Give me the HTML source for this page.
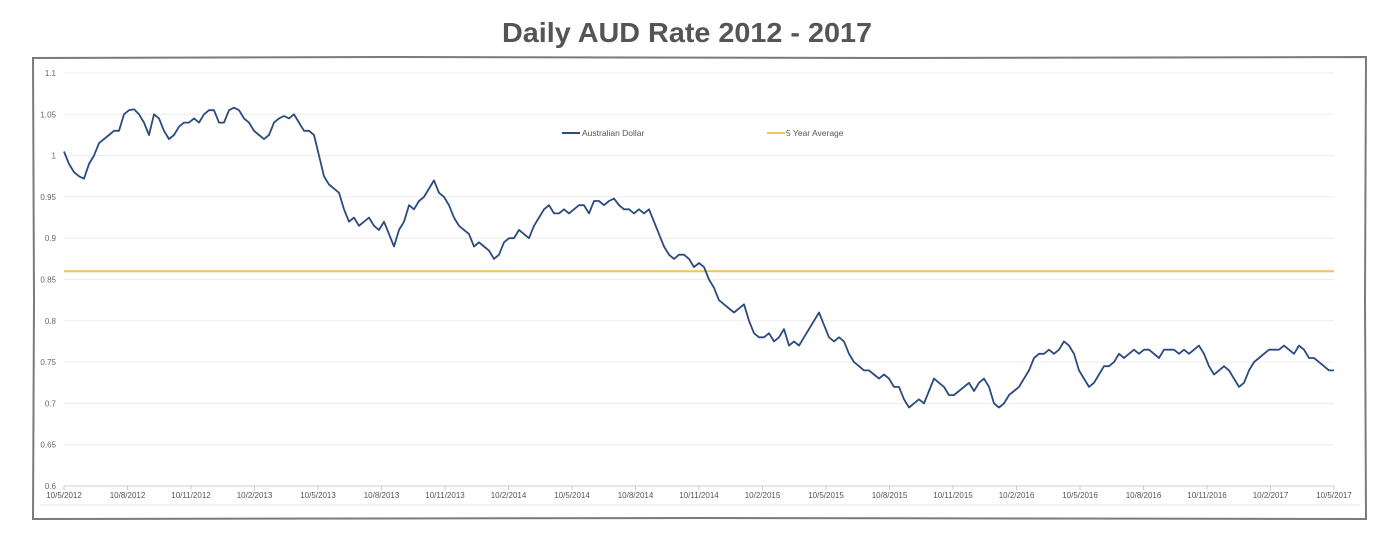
<!DOCTYPE html>
<html><head><meta charset="utf-8"><style>
body{margin:0;background:#fff;}
svg{display:block;font-family:"Liberation Sans",sans-serif;}
</style></head><body>
<svg width="1388" height="536" viewBox="0 0 1388 536">
<text x="687" y="42" text-anchor="middle" font-size="28" font-weight="bold" fill="#555" textLength="370" lengthAdjust="spacingAndGlyphs">Daily AUD Rate 2012 - 2017</text>
<path d="M33,58 L400,57 L900,58 L1366,57 L1365,300 L1366,519 L700,518 L33,519 L34,300 Z" fill="none" stroke="#7a7a7a" stroke-width="2"/>
<g id="grid"></g>
<g id="yticks"></g>
<g id="xticks"></g>
<line x1="40" y1="505" x2="1360" y2="505" stroke="#e6e6e6"/>
<g id="series"></g>
<g>
<line x1="562" y1="133" x2="580" y2="133" stroke="#2b4a7e" stroke-width="2"/>
<text x="582" y="136" font-size="8.5" fill="#555">Australian Dollar</text>
<line x1="767" y1="133" x2="785" y2="133" stroke="#f0c45a" stroke-width="2"/>
<text x="786" y="136" font-size="8.5" fill="#555">5 Year Average</text>
</g>
</svg>
<script>
const xLabels=["10/5/2012","10/8/2012","10/11/2012","10/2/2013","10/5/2013","10/8/2013","10/11/2013","10/2/2014","10/5/2014","10/8/2014","10/11/2014","10/2/2015","10/5/2015","10/8/2015","10/11/2015","10/2/2016","10/5/2016","10/8/2016","10/11/2016","10/2/2017","10/5/2017"];
const yTicks=[0.6,0.65,0.7,0.75,0.8,0.85,0.9,0.95,1,1.05,1.1];
const average=[0.86];
const audValues=[1.005,0.99,0.98,0.975,0.972,0.99,1.0,1.015,1.02,1.025,1.03,1.03,1.05,1.055,1.056,1.05,1.04,1.025,1.05,1.045,1.03,1.02,1.025,1.035,1.04,1.04,1.045,1.04,1.05,1.055,1.055,1.04,1.04,1.055,1.058,1.055,1.045,1.04,1.03,1.025,1.02,1.025,1.04,1.045,1.048,1.045,1.05,1.04,1.03,1.03,1.025,1.0,0.975,0.965,0.96,0.955,0.935,0.92,0.925,0.915,0.92,0.925,0.915,0.91,0.92,0.905,0.89,0.91,0.92,0.94,0.935,0.945,0.95,0.96,0.97,0.955,0.95,0.94,0.925,0.915,0.91,0.905,0.89,0.895,0.89,0.885,0.875,0.88,0.895,0.9,0.9,0.91,0.905,0.9,0.915,0.925,0.935,0.94,0.93,0.93,0.935,0.93,0.935,0.94,0.94,0.93,0.945,0.945,0.94,0.945,0.948,0.94,0.935,0.935,0.93,0.935,0.93,0.935,0.92,0.905,0.89,0.88,0.875,0.88,0.88,0.875,0.865,0.87,0.865,0.85,0.84,0.825,0.82,0.815,0.81,0.815,0.82,0.8,0.785,0.78,0.78,0.785,0.775,0.78,0.79,0.77,0.775,0.77,0.78,0.79,0.8,0.81,0.795,0.78,0.775,0.78,0.775,0.76,0.75,0.745,0.74,0.74,0.735,0.73,0.735,0.73,0.72,0.72,0.705,0.695,0.7,0.705,0.7,0.715,0.73,0.725,0.72,0.71,0.71,0.715,0.72,0.725,0.715,0.725,0.73,0.72,0.7,0.695,0.7,0.71,0.715,0.72,0.73,0.74,0.755,0.76,0.76,0.765,0.76,0.765,0.775,0.77,0.76,0.74,0.73,0.72,0.725,0.735,0.745,0.745,0.75,0.76,0.755,0.76,0.765,0.76,0.765,0.765,0.76,0.755,0.765,0.765,0.765,0.76,0.765,0.76,0.765,0.77,0.76,0.745,0.735,0.74,0.745,0.74,0.73,0.72,0.725,0.74,0.75,0.755,0.76,0.765,0.765,0.765,0.77,0.765,0.76,0.77,0.765,0.755,0.755,0.75,0.745,0.74,0.74];
const NS="http://www.w3.org/2000/svg";
const X0=64,X1=1334,Y0=486,Y1=73,VMIN=0.6,VMAX=1.1;
function yScale(v){return Y0-(v-VMIN)/(VMAX-VMIN)*(Y0-Y1);}
function xScale(f){return X0+f*(X1-X0);}
function mk(tag,attrs,parent){const e=document.createElementNS(NS,tag);for(const k in attrs)e.setAttribute(k,attrs[k]);parent.appendChild(e);return e;}
const grid=document.getElementById('grid'),yt=document.getElementById('yticks'),xt=document.getElementById('xticks'),ser=document.getElementById('series');
yTicks.forEach(v=>{
  const y=yScale(v);
  const l=mk('line',{x1:X0,x2:X1,y1:y,y2:y,stroke:v===VMIN?'#d0d0d0':'#ececec'},grid);
  
  
  const t=mk('text',{x:56,y:y+3,'text-anchor':'end','font-size':'8','fill':'#666'},yt);
  t.textContent=String(v);
  
  
});
xLabels.forEach((s,i)=>{
  const x=xScale(i/(xLabels.length-1));
  const tk=mk('line',{x1:x,x2:x,y1:Y0,y2:Y0+4,stroke:'#ccc'},xt);
  
  
  const t=mk('text',{x:x,y:Y0+12,'text-anchor':'middle','font-size':'8','fill':'#555'},xt);
  t.textContent=s;
  
  
});
const avgY=yScale(average[0]);
const avg=mk('line',{x1:X0,x2:X1,y1:avgY,y2:avgY,stroke:'#f0c45a','stroke-width':2},ser);


const pts=audValues.map((v,i)=>xScale(i/(audValues.length-1)).toFixed(1)+','+yScale(v).toFixed(1)).join(' ');
const pl=mk('polyline',{points:pts,fill:'none',stroke:'#2b4a7e','stroke-width':1.8,'stroke-linejoin':'round'},ser);


</script>
</body></html>
